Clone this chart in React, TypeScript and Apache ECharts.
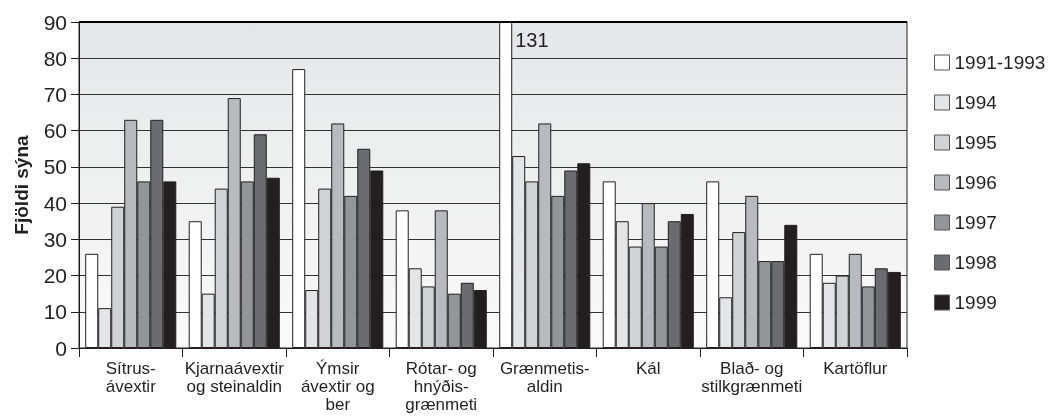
import React, { useEffect, useRef } from "react";
import * as echarts from "echarts";

const categories = [
  "Sítrus-\návextir",
  "Kjarnaávextir\nog steinaldin",
  "Ýmsir\návextir og\nber",
  "Rótar- og\nhnýðis-\ngrænmeti",
  "Grænmetis-\naldin",
  "Kál",
  "Blað- og\nstilkgrænmeti",
  "Kartöflur",
];
const seriesNames = ["1991-1993", "1994", "1995", "1996", "1997", "1998", "1999"];
const s1991_1993 = [26, 35, 77, 38, 131, 46, 46, 26];
const s1994 = [11, 15, 16, 22, 53, 35, 14, 18];
const s1995 = [39, 44, 44, 17, 46, 28, 32, 20];
const s1996 = [63, 69, 62, 38, 62, 40, 42, 26];
const s1997 = [46, 46, 42, 15, 42, 28, 24, 17];
const s1998 = [63, 59, 55, 18, 49, 35, 24, 22];
const s1999 = [46, 47, 49, 16, 51, 37, 34, 21];
const seriesValues = [s1991_1993, s1994, s1995, s1996, s1997, s1998, s1999];
const colors = ["#ffffff", "#e4e5e6", "#d1d2d4", "#b9babd", "#939598", "#6b6c70", "#231f20"];
const yTicks = [0, 10, 20, 30, 40, 50, 60, 70, 80, 90];
const overflowLabel = "131";

const FONT = "'Liberation Sans', Arial, Helvetica, sans-serif";
const DARK = "#231f20";
const Y_MAX = yTicks[yTicks.length - 1];

export default function App() {
  const ref = useRef<HTMLDivElement>(null);
  useEffect(() => {
    if (!ref.current) return;
    const chart = echarts.init(ref.current, undefined, { renderer: "svg" });
    const series: any[] = seriesNames.map((name, i) => ({
      name,
      type: "bar",
      data: seriesValues[i].map((v) =>
        v > Y_MAX
          ? {
              value: v,
              label: {
                show: true,
                position: [16, 8],
                formatter: overflowLabel,
                fontSize: 20,
                fontFamily: FONT,
                color: DARK,
              },
            }
          : v
      ),
      barGap: "0%",
      barCategoryGap: "12%",
      clip: true,
      itemStyle: { color: colors[i], borderColor: DARK, borderWidth: 1 },
      emphasis: { disabled: true },
    }));
    series[0].markLine = {
      silent: true,
      symbol: "none",
      label: { show: false },
      lineStyle: { color: "#000", width: 2, type: "solid" },
      data: [{ yAxis: Y_MAX }],
    };
    chart.setOption({
      animation: false,
      textStyle: { fontFamily: FONT },
      grid: {
        left: 79,
        right: 147,
        top: 22,
        bottom: 68,
        show: true,
        borderColor: DARK,
        borderWidth: 1,
        backgroundColor: new echarts.graphic.LinearGradient(0, 0, 0, 1, [
          { offset: 0, color: "#e5e6e7" },
          { offset: 1, color: "#fafafa" },
        ]),
      },
      legend: {
        orient: "vertical",
        left: 929,
        top: 48,
        itemWidth: 15,
        itemHeight: 15,
        itemGap: 21,
        icon: "rect",
        textStyle: { fontSize: 19, color: DARK, fontFamily: FONT },
        itemStyle: { borderColor: "#555", borderWidth: 1 },
        data: seriesNames,
      },
      xAxis: {
        type: "category",
        data: categories,
        axisLine: { lineStyle: { color: DARK, width: 1 } },
        axisTick: { show: true, length: 9, lineStyle: { color: DARK } },
        axisLabel: {
          fontSize: 17,
          color: DARK,
          lineHeight: 18,
          margin: 11,
          interval: 0,
        },
      },
      yAxis: {
        type: "value",
        min: 0,
        max: Y_MAX,
        interval: 10,
        name: "Fjöldi sýna",
        nameLocation: "middle",
        nameGap: 48,
        nameTextStyle: { fontSize: 19, fontWeight: "bold", color: DARK, fontFamily: FONT },
        axisLine: { show: true, lineStyle: { color: DARK, width: 1 } },
        axisTick: { show: true, length: 8, lineStyle: { color: DARK } },
        axisLabel: { fontSize: 21, color: DARK, margin: 12 },
        splitLine: { show: true, lineStyle: { color: "#333333", width: 1 } },
      },
      series,
    });
    return () => chart.dispose();
  }, []);
  return (
    <div
      ref={ref}
      style={{ position: "fixed", left: 0, top: 0, width: 1054, height: 416 }}
    />
  );
}
